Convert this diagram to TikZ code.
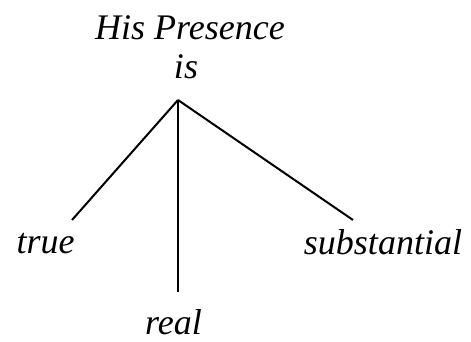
\documentclass[tikz,border=0pt]{standalone}
\usepackage{fontspec}
\setmainfont{Liberation Serif}
\begin{document}
\begin{tikzpicture}[x=1pt,y=1pt,
  lbl/.style={anchor=base,inner sep=0pt,font=\fontsize{36}{40}\selectfont\itshape},
  edge/.style={line width=2pt}]
\useasboundingbox (0,0) rectangle (471,-341);
\node[lbl] (title) at (190,-39) {His Presence};
\node[lbl] (is) at (186,-78) {is};
\node[lbl] (true) at (45.5,-253) {true};
\node[lbl] (subst) at (383,-254) {substantial};
\node[lbl] (real) at (173.5,-334) {real};
\coordinate (apex) at (178,-100);
\coordinate (eL) at (72,-220);
\coordinate (eM) at (178,-292);
\coordinate (eR) at (353,-220);
\draw[edge] (apex) -- (eL);
\draw[edge] (apex) -- (eM);
\draw[edge] (apex) -- (eR);
\end{tikzpicture}
\end{document}
